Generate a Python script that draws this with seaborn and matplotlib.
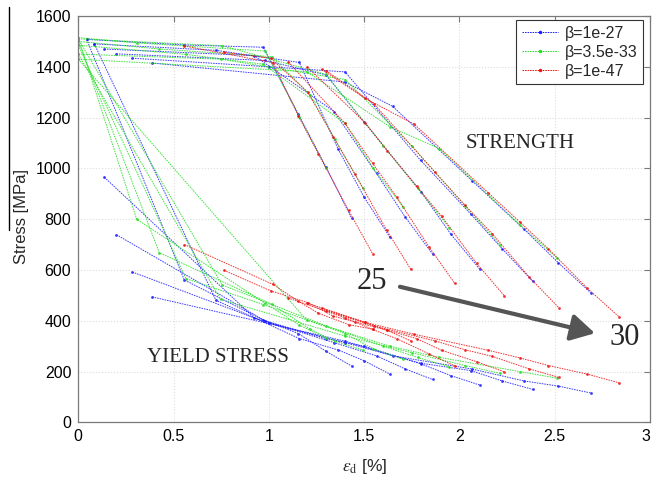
import matplotlib
matplotlib.use("Agg")
import matplotlib.pyplot as plt
import matplotlib.transforms as mtransforms
from matplotlib.lines import Line2D
import numpy as np
import pandas as pd
import seaborn as sns

# ---------------- data ----------------
BETA_LABELS = ["β=1e-27", "β=3.5e-33", "β=1e-47"]
BETA_COLORS = ["#1a1aff", "#22dd22", "#ee1111"]

# beta = 1e-27 (blue): strain points, strength, yield stress (6 curves, 25..30)
BLUE_X = [
    [0.044, 0.556, 0.971, 1.154, 1.30, 1.434],
    [0.084, 0.722, 1.16, 1.364, 1.499, 1.635],
    [0.137, 0.923, 1.342, 1.565, 1.714, 1.859],
    [0.20, 0.98, 1.30, 1.50, 1.80, 1.955, 2.107],
    [0.284, 1.00, 1.40, 1.796, 2.06, 2.225, 2.384],
    [0.388, 1.40, 1.65, 2.067, 2.34, 2.518, 2.688],
]
BLUE_S = [
    [1508, 1486, 1477, 1215, 1005, 804],
    [1490, 1465, 1417, 1075, 888, 729],
    [1470, 1444, 1224, 980, 810, 663],
    [1451, 1425, 1368, 1182, 906, 741, 603],
    [1434, 1400, 1380, 1032, 820, 683, 556],
    [1415, 1340, 1244, 951, 760, 629, 511],
]
BLUE_Y = [
    [1508, 561, 403, 350, 280, 222],
    [1490, 481, 330, 285, 243, 190],
    [965, 412, 314, 262, 211, 169],
    [739, 400, 330, 300, 230, 184, 147],
    [592, 390, 314, 233, 204, 163, 130],
    [494, 320, 262, 210, 163, 143, 116],
]

# beta = 3.5e-33 (green)
GREEN_X = [
    [0.0, 0.306, 0.98, 1.16, 1.30],
    [0.0, 0.425, 1.015, 1.216, 1.345, 1.493],
    [0.0, 0.565, 0.971, 1.40, 1.548, 1.705],
    [0.0, 0.755, 1.30, 1.60, 1.78, 1.947],
    [0.0, 0.747, 1.40, 1.75, 2.03, 2.213],
    [0.0, 1.198, 1.635, 1.895, 2.317, 2.514],
]
GREEN_S = [
    [1515, 1494, 1462, 1203, 1000],
    [1500, 1470, 1440, 1290, 1116, 924],
    [1485, 1449, 1410, 1177, 1000, 849],
    [1510, 1483, 1370, 1090, 922, 767],
    [1450, 1430, 1350, 1088, 852, 699],
    [1430, 1381, 1164, 1078, 778, 646],
]
GREEN_Y = [
    [1515, 800, 469, 383, 331],
    [1500, 668, 465, 367, 320, 285],
    [1485, 566, 464, 350, 290, 248],
    [1510, 541, 380, 300, 256, 219],
    [1450, 484, 340, 274, 224, 193],
    [1430, 403, 300, 256, 200, 174],
]

# beta = 1e-47 (red)
RED_X = [
    [0.557, 1.023, 1.154, 1.26, 1.418, 1.545],
    [0.764, 1.009, 1.203, 1.339, 1.452, 1.618, 1.745],
    [1.10, 1.40, 1.544, 1.670, 1.842, 1.976],
    [1.20, 1.505, 1.621, 1.775, 1.906, 2.09, 2.235],
    [1.30, 1.55, 1.871, 2.029, 2.172, 2.365, 2.522],
    [1.277, 1.504, 1.763, 2.151, 2.317, 2.466, 2.671, 2.837],
]
RED_S = [
    [1482, 1416, 1207, 1058, 835, 663],
    [1457, 1434, 1301, 1124, 977, 757, 602],
    [1420, 1177, 1020, 888, 689, 547],
    [1400, 1180, 1070, 930, 812, 626, 499],
    [1385, 1255, 986, 855, 743, 573, 451],
    [1390, 1276, 1174, 904, 789, 684, 528, 416],
]
RED_Y = [
    [700, 543, 477, 430, 385, 367],
    [599, 518, 472, 418, 396, 363, 321],
    [490, 412, 366, 330, 269, 222],
    [470, 394, 363, 330, 284, 239, 199],
    [440, 380, 321, 286, 260, 211, 177],
    [449, 394, 347, 284, 254, 224, 190, 156],
]

X_TICKS = [0, 0.5, 1, 1.5, 2, 2.5, 3]
X_TICK_LABELS = ["0", "0.5", "1", "1.5", "2", "2.5", "3"]
Y_TICKS = [0, 200, 400, 600, 800, 1000, 1200, 1400, 1600]

# ---------------- build table ----------------
rows = []
groups = [(BLUE_X, BLUE_S, BLUE_Y), (GREEN_X, GREEN_S, GREEN_Y), (RED_X, RED_S, RED_Y)]
for bi, (XS, SS, YS) in enumerate(groups):
    for k in range(len(XS)):
        for kind, vals in (("S", SS[k]), ("Y", YS[k])):
            for i, (xv, yv) in enumerate(zip(XS[k], vals)):
                rows.append(dict(beta=BETA_LABELS[bi], unit=f"{bi}-{k}-{kind}",
                                 order=i, strain=xv, stress=yv))
df = pd.DataFrame(rows)

# ---------------- plot ----------------
sns.set_theme(style="white")
plt.rcParams["font.family"] = ["Liberation Sans", "DejaVu Sans"]
plt.rcParams["mathtext.fontset"] = "stix"

fig = plt.figure(figsize=(6.52, 4.83), dpi=100)
ax = fig.add_axes([78.3 / 652, 1 - 422.4 / 483, (650 - 78.3) / 652, (422.4 - 16) / 483])

dot_style = (0, (1.6, 1.0))
for bi, lab in enumerate(BETA_LABELS):
    sub = df[df["beta"] == lab]
    sns.lineplot(data=sub, x="strain", y="stress", units="unit", estimator=None,
                 sort=False, color=BETA_COLORS[bi], linewidth=0.7, linestyle=dot_style,
                 marker=".", markersize=4, markeredgewidth=0, alpha=0.85,
                 legend=False, ax=ax)

ax.set_xlim(0, 3)
ax.set_ylim(0, 1600)
ax.set_xticks(X_TICKS)
ax.set_xticklabels(X_TICK_LABELS)
ax.set_yticks(Y_TICKS)
ax.grid(True, color="#dddddd", linestyle=":", linewidth=0.8)
ax.set_axisbelow(True)
for sp in ax.spines.values():
    sp.set_color("#7a7a7a")
    sp.set_linewidth(0.9)
ax.tick_params(direction="in", length=4, width=0.8, color="#7a7a7a",
               top=True, right=True, labelsize=11.5, labelcolor="black", pad=5)

# keep the last x tick label inside the canvas
last = ax.get_xticklabels()[-1]
last.set_transform(last.get_transform() +
                   mtransforms.ScaledTranslation(-4 / 100, 0, fig.dpi_scale_trans))

ax.set_xlabel(r"$\varepsilon_{\mathrm{d}}$ [%]", fontsize=12.5, va="center")
ax.xaxis.set_label_coords((365 - 78.3) / 571.7, (422.4 - 466) / 406.4)
ax.set_ylabel("Stress [MPa]", fontsize=12, va="center")
ax.yaxis.set_label_coords((21.5 - 78.3) / 571.7, (422.4 - 216) / 406.4)

serif = ["Liberation Serif", "DejaVu Serif"]
ax.text(2.033, 1097, "STRENGTH", family=serif, fontsize=15, va="center", ha="left")
ax.text(0.362, 255, "YIELD STRESS", family=serif, fontsize=15, va="center", ha="left")
ax.text(1.458, 553, "25", family=serif, fontsize=22, va="center", ha="left")
ax.text(2.79, 336, "30", family=serif, fontsize=22, va="center", ha="left")
ax.annotate("", xy=(2.711, 351), xytext=(1.688, 534),
            arrowprops=dict(arrowstyle="-|>,head_length=0.8,head_width=0.45",
                            color="#555555", lw=3, mutation_scale=18,
                            shrinkA=0, shrinkB=0))

handles = [Line2D([], [], color=c, linewidth=0.7, linestyle=dot_style, marker=".",
                  markersize=5, markeredgewidth=0) for c in BETA_COLORS]
leg = ax.legend(handles, BETA_LABELS, loc="upper right",
                bbox_to_anchor=(1 - 7 / 571.7, 1 - 4 / 406.4), borderaxespad=0,
                fontsize=11.5, frameon=True, fancybox=False, framealpha=1,
                edgecolor="#333333", handlelength=2.3, handletextpad=0.4,
                labelspacing=0.25, borderpad=0.35, numpoints=1)
leg.get_frame().set_linewidth(0.8)

# stray vertical rule at the top-left of the original figure
fig.add_artist(Line2D([9 / 652, 9 / 652], [1 - 7 / 483, 1 - 230 / 483],
                      color="black", linewidth=1.0))

fig.savefig("out.png", dpi=100)
